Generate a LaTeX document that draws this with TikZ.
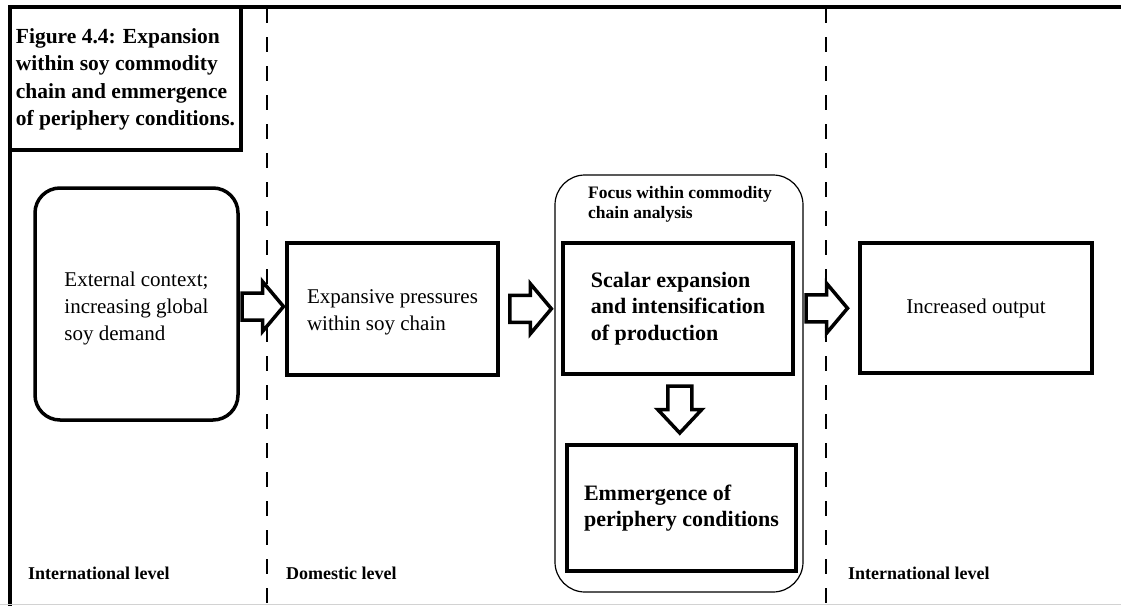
\documentclass[tikz,border=0pt]{standalone}
\usepackage{fontspec}
\setmainfont{Liberation Serif}
\usetikzlibrary{calc}

% type sizes (1pt = one unit of the drawing grid)
\newcommand\fsTitle{\fontsize{21.5}{27.5}\selectfont\bfseries}
\newcommand\fsPlain{\fontsize{21}{27}\selectfont}
\newcommand\fsStrong{\fontsize{22}{26.5}\selectfont\bfseries}
\newcommand\fsFocus{\fontsize{17.5}{20}\selectfont\bfseries}
\newcommand\fsLevel{\fontsize{18}{20}\selectfont\bfseries}

\tikzset{
  frame/.style={line width=3.5pt, line cap=rect},
  divider/.style={line width=1.5pt, dash pattern=on 15pt off 14pt},
  box/.style={draw, line width=3.5pt, fill=white, inner sep=0pt},
  heavybox/.style={box, line width=4pt},
  roundbox/.style={box, rounded corners=25pt},
  focusframe/.style={draw, line width=1.2pt, fill=white, rounded corners=30pt, inner sep=0pt},
  boxtext/.style={align=left, inner sep=0pt},
  blockarrow/.style={draw, line width=3.5pt, fill=white, line join=miter},
  level/.style={anchor=base west, inner sep=0pt, font=\fsLevel},
  rblock/.pic={\draw[blockarrow] (-20.5,13.5) -- (0,13.5) -- (0,25) -- (21,0) -- (0,-25) -- (0,-13.5) -- (-20.5,-13.5) -- cycle;},
  dblock/.pic={\draw[blockarrow] (-12,-23.5) -- (-12,0) -- (-22,0) -- (0,23.5) -- (22,0) -- (12,0) -- (12,-23.5) -- cycle;},
}

\begin{document}
\begin{tikzpicture}[x=1pt, y=-1pt]
\useasboundingbox (0,0) rectangle (1121,605);

% level dividers
\coordinate (d1top) at (267,8);  \coordinate (d1bot) at (267,605);
\coordinate (d2top) at (826,8);  \coordinate (d2bot) at (826,605);
\draw[divider] (d1top) -- (d1bot);
\draw[divider] (d2top) -- (d2bot);

% outer frame: top and left rules, faint base line
\coordinate (ftl) at (10,7); \coordinate (ftr) at (1121,7); \coordinate (fbl) at (10,605);
\draw[frame] (ftr) -- (ftl) -- (fbl);
\coordinate (gl) at (0,604); \coordinate (gr) at (1121,604);
\draw[gray!35, line width=1pt] (gl) -- (gr);

% caption box
\node[box, minimum width=231pt, minimum height=143pt] (title) at (125.5,78.5) {};
\node[boxtext, font=\fsTitle] (titletxt) at ([yshift=-1pt]title.center)
  {Figure 4.4: Expansion\\within soy commodity\\chain and emmergence\\of periphery conditions.};

% chain stages
\node[roundbox, minimum width=203pt, minimum height=232pt] (ext) at (136.5,304) {};
\node[boxtext, font=\fsPlain] (exttxt) at ([yshift=-4pt]ext.center)
  {External context;\\increasing global\\soy demand};

\node[box, minimum width=211pt, minimum height=132pt] (exp) at (392.5,309) {};
\node[boxtext, font=\fsPlain] (exptxt) at ([yshift=-3.5pt]exp.center)
  {Expansive pressures\\within soy chain};

\node[focusframe, minimum width=248pt, minimum height=417pt] (focus) at (679,383.5) {};
\node[anchor=base west, boxtext, font=\fsFocus] (focuslbl) at (588,218)
  {Focus within commodity\\chain analysis};

\node[heavybox, minimum width=230pt, minimum height=131pt] (scalar) at (678,308.5) {};
\node[boxtext, font=\fsStrong] (scalartxt) at (scalar.center)
  {Scalar expansion\\and intensification\\of production};

\node[heavybox, minimum width=229pt, minimum height=126pt] (emm) at (681.5,508) {};
\node[boxtext, font=\fsStrong] (emmtxt) at (emm.center)
  {Emmergence of\\periphery conditions};

\node[heavybox, minimum width=232pt, minimum height=130pt] (out) at (976,308) {};
\node[boxtext, font=\fsPlain] (outtxt) at (out.center) {Increased output};

% block arrows between stages
\path ($(ext.east)!0.5!(exp.west)$) pic {rblock};
\path ($(exp.east)!0.5!(scalar.west)$) pic {rblock};
\path ($(scalar.east)!0.5!(out.west)$) pic {rblock};
\path ($(scalar.south)!0.5!(emm.north)$) pic {dblock};

% level labels
\node[level] (lvl1) at (28,579) {International level};
\node[level] (lvl2) at (286,579) {Domestic level};
\node[level] (lvl3) at (848,579) {International level};
\end{tikzpicture}
\end{document}
